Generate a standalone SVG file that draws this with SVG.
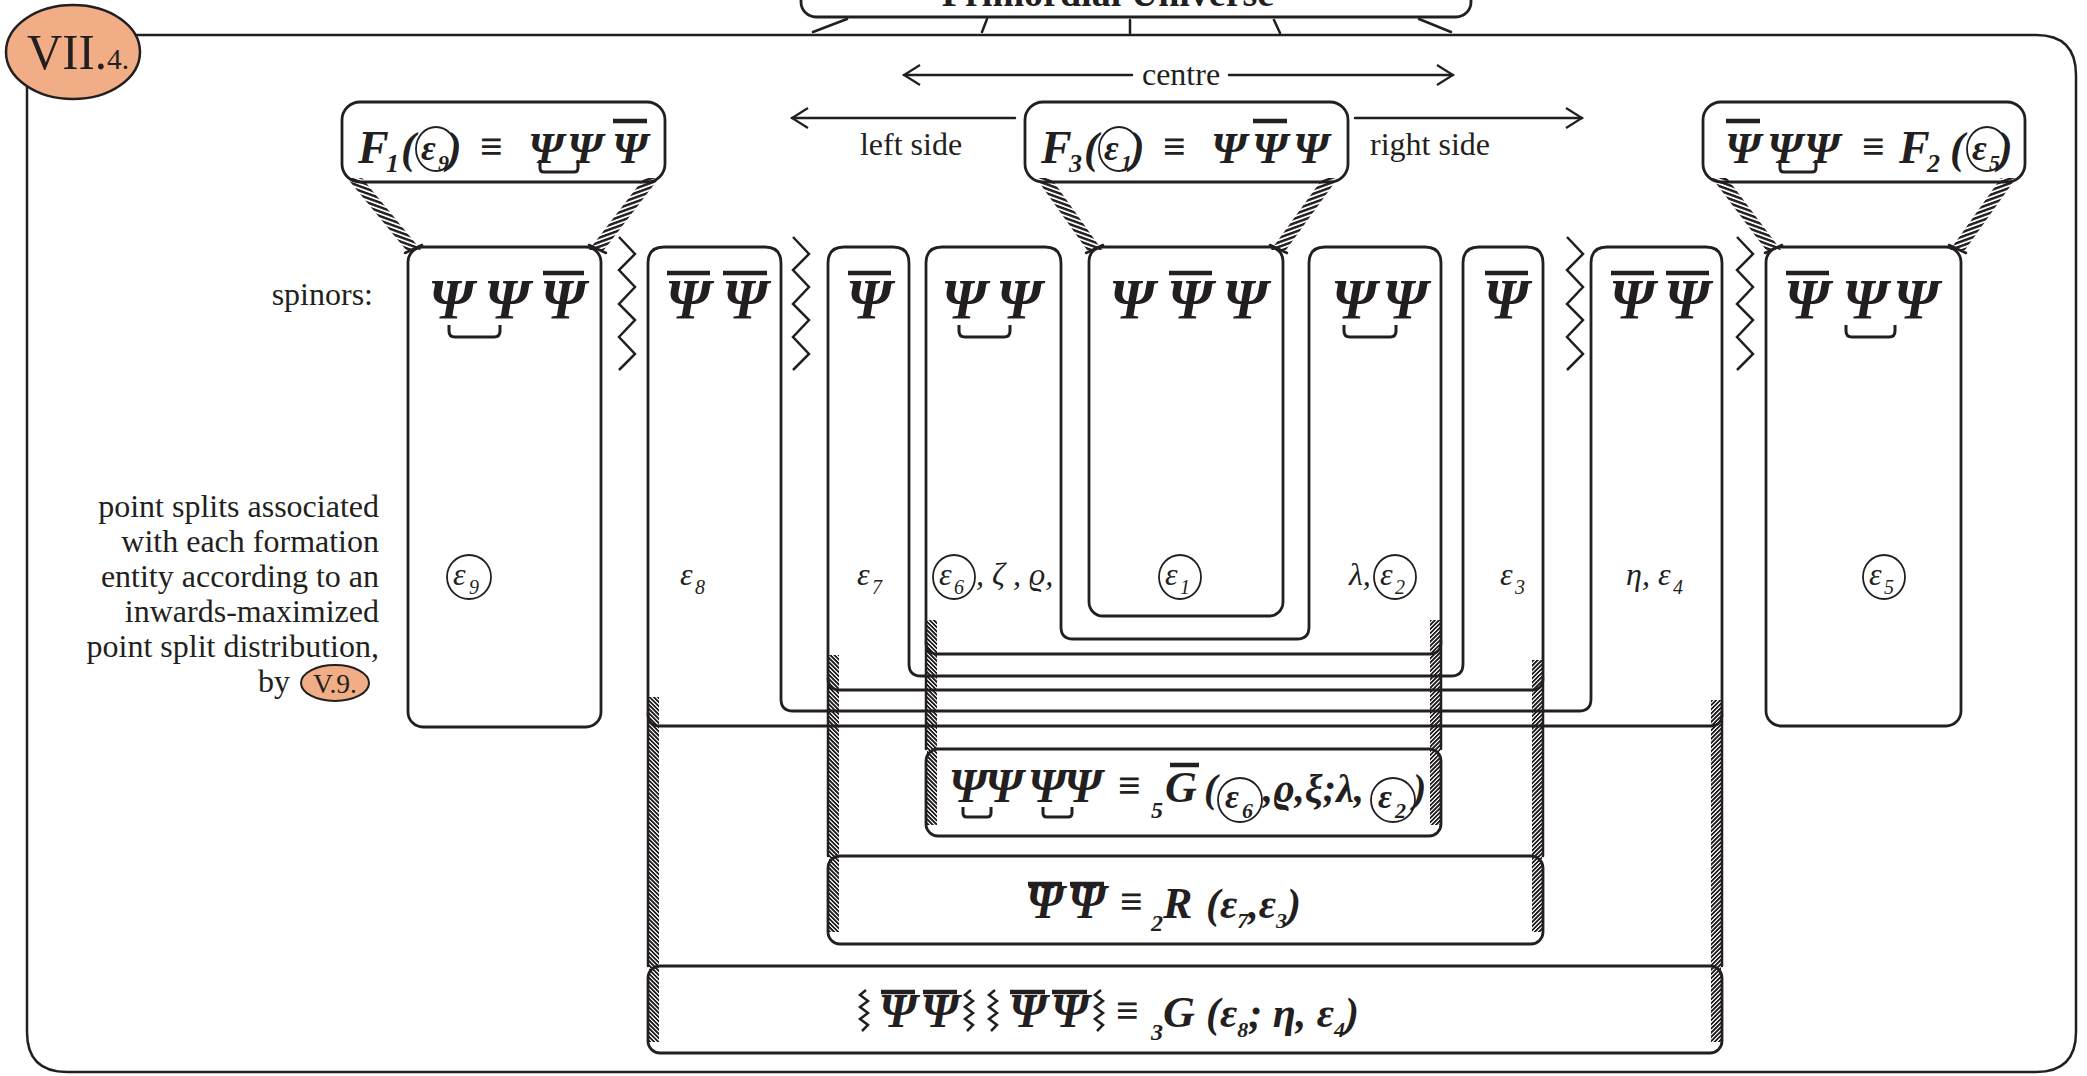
<svg xmlns="http://www.w3.org/2000/svg" width="2087" height="1076" viewBox="0 0 2087 1076">
<defs>
<style>
.ln{fill:none;stroke:#231f20;stroke-width:2.5;stroke-linecap:round;stroke-linejoin:round}
.bx{fill:none;stroke:#231f20;stroke-width:2.8}
.t{font-family:"Liberation Serif","Times New Roman",serif;fill:#231f20}
.lab{font-size:32px}
.bi{font-weight:bold;font-style:italic}
.it{font-style:italic}
.psi{font-family:"Liberation Serif","Times New Roman",serif;font-weight:bold;font-style:italic;font-size:57px;text-anchor:middle;fill:#231f20}
.pf{font-size:45px}
.pb{font-size:48px}
.bar{stroke:#231f20;stroke-width:4.5}
.brk{fill:none;stroke:#231f20;stroke-width:3;stroke-linejoin:round}
.cir{fill:none;stroke:#231f20;stroke-width:1.8}
.zz{fill:none;stroke:#231f20;stroke-width:2.5;stroke-linejoin:miter}
</style>
<pattern id="hL" width="20" height="4.5" patternUnits="userSpaceOnUse" patternTransform="skewY(20)"><rect width="20" height="2.6" fill="#231f20"/></pattern>
<pattern id="hR" width="20" height="4.5" patternUnits="userSpaceOnUse" patternTransform="skewY(-20)"><rect width="20" height="2.6" fill="#231f20"/></pattern>
<pattern id="vL" width="12" height="4.2" patternUnits="userSpaceOnUse" patternTransform="skewY(45)"><rect width="12" height="2.6" fill="#231f20"/></pattern>
<pattern id="vR" width="12" height="4.2" patternUnits="userSpaceOnUse" patternTransform="skewY(-45)"><rect width="12" height="2.6" fill="#231f20"/></pattern>
<marker id="ah" viewBox="0 0 20 24" refX="18" refY="12" markerWidth="20" markerHeight="24" markerUnits="userSpaceOnUse" orient="auto"><path d="M2,2 L18,12 L2,22" fill="none" stroke="#231f20" stroke-width="2.2"/></marker>
</defs>
<rect width="2087" height="1076" fill="#ffffff"/>

<g id="frame">
<path class="ln" d="M130,35 L2036,35 Q2076,35 2076,75 L2076,1032 Q2076,1072 2036,1072 L67,1072 Q27,1072 27,1032 L27,86"/>
<ellipse cx="73" cy="52" rx="67" ry="47" fill="#F1AE86" stroke="#231f20" stroke-width="2.5"/>
<text class="t" x="27" y="69" font-size="50" textLength="102" lengthAdjust="spacingAndGlyphs">VII.<tspan font-size="30">4.</tspan></text>
</g>

<g id="primordial">
<rect class="bx" x="801" y="-30" width="670" height="47" rx="15"/>
<text class="t" x="1108" y="6" font-size="38" font-weight="bold" text-anchor="middle">Primordial Universe</text>
</g>

<g id="connectors">
<path class="ln" d="M813,32 L847,19 M982,32 L987,19 M1130,33 L1130,20 M1274,20 L1280,33 M1419,19 L1451,32"/>
<line class="ln" x1="1132" y1="75" x2="904" y2="75" marker-end="url(#ah)"/>
<line class="ln" x1="1229" y1="75" x2="1453" y2="75" marker-end="url(#ah)"/>
<line class="ln" x1="1015" y1="118" x2="792" y2="118" marker-end="url(#ah)"/>
<line class="ln" x1="1355" y1="118" x2="1582" y2="118" marker-end="url(#ah)"/>
<polygon points="347,178 362,178 421,250 406,250" fill="url(#hL)"/>
<polygon points="644,178 659,178 604,250 589,250" fill="url(#hR)"/>
<polygon points="1036,178 1051,178 1102,250 1087,250" fill="url(#hL)"/>
<polygon points="1323,178 1338,178 1286,250 1271,250" fill="url(#hR)"/>
<polygon points="1712,178 1727,178 1781,250 1766,250" fill="url(#hL)"/>
<polygon points="2001,178 2016,178 1965,250 1950,250" fill="url(#hR)"/>
<path class="ln" d="M405,253 L422,245 M589,245 L606,253 M1086,253 L1103,245 M1270,245 L1287,253 M1765,253 L1782,245 M1949,245 L1966,253"/>
<path class="zz" d="M619,237 L635,254 L619,270 L635,287 L619,304 L635,320 L619,337 L635,354 L619,370"/>
<path class="zz" d="M793,237 L809,254 L793,270 L809,287 L793,304 L809,320 L793,337 L809,354 L793,370"/>
<path class="zz" d="M1567,237 L1583,254 L1567,270 L1583,287 L1567,304 L1583,320 L1567,337 L1583,354 L1567,370"/>
<path class="zz" d="M1737,237 L1753,254 L1737,270 L1753,287 L1737,304 L1753,320 L1737,337 L1753,354 L1737,370"/>
<path class="ln" d="M648,714 L648,966 M1722,714 L1722,966 M828,678 L828,856 M1543,678 L1543,856 M926,642 L926,749 M1441,642 L1441,749"/>
<rect x="649" y="697" width="10" height="345" fill="url(#vL)"/>
<rect x="1711" y="700" width="10" height="342" fill="url(#vR)"/>
<rect x="829" y="655" width="10" height="277" fill="url(#vL)"/>
<rect x="1532" y="660" width="10" height="272" fill="url(#vR)"/>
<rect x="927" y="620" width="10" height="205" fill="url(#vL)"/>
<rect x="1430" y="620" width="10" height="205" fill="url(#vR)"/>
</g>

<g id="labels-left">
<text class="t lab" x="373" y="305" text-anchor="end">spinors:</text>
<text class="t lab" text-anchor="end"><tspan x="379" y="517">point splits associated</tspan><tspan x="379" y="552">with each formation</tspan><tspan x="379" y="587">entity according to an</tspan><tspan x="379" y="622">inwards-maximized</tspan><tspan x="379" y="657">point split distribution,</tspan><tspan x="290" y="692">by</tspan></text>
<ellipse cx="335" cy="683" rx="34" ry="18" fill="#F1AE86" stroke="#231f20" stroke-width="2"/>
<text class="t" x="335" y="693" font-size="27" text-anchor="middle" textLength="44" lengthAdjust="spacingAndGlyphs">V.9.</text>
<text class="t lab" x="1181" y="85" text-anchor="middle">centre</text>
<text class="t lab" x="911" y="155" text-anchor="middle">left side</text>
<text class="t lab" x="1430" y="155" text-anchor="middle">right side</text>
</g>

<g id="F1">
<rect class="bx" x="342" y="102" width="323" height="80" rx="18"/>
<text class="t bi" x="358" y="163" font-size="46">F</text>
<text class="t bi" x="386" y="172" font-size="26">1</text>
<text class="t bi" x="401" y="163" font-size="44">(</text>
<ellipse class="cir" cx="436" cy="149" rx="20" ry="22"/>
<text class="t bi" x="421" y="160" font-size="36">ε</text>
<text class="t bi" x="438" y="170" font-size="22">9</text>
<text class="t bi" x="447" y="163" font-size="44">)</text>
<text class="t bi" x="480" y="160" font-size="40">≡</text>
<text class="psi pf" x="546" y="163">Ψ</text>
<text class="psi pf" x="585" y="163">Ψ</text>
<text class="psi pf" x="630" y="163">Ψ</text>
<line class="bar" x1="613" y1="121" x2="647" y2="121"/>
<path class="brk" d="M540,160 L540,168 Q540,172 544,172 L574,172 Q578,172 578,168 L578,160"/>
</g>

<g id="F3">
<rect class="bx" x="1025" y="102" width="323" height="80" rx="18"/>
<text class="t bi" x="1041" y="163" font-size="46">F</text>
<text class="t bi" x="1069" y="172" font-size="26">3</text>
<text class="t bi" x="1084" y="163" font-size="44">(</text>
<ellipse class="cir" cx="1119" cy="149" rx="20" ry="22"/>
<text class="t bi" x="1104" y="160" font-size="36">ε</text>
<text class="t bi" x="1121" y="170" font-size="22">1</text>
<text class="t bi" x="1130" y="163" font-size="44">)</text>
<text class="t bi" x="1163" y="160" font-size="40">≡</text>
<text class="psi pf" x="1229" y="163">Ψ</text>
<text class="psi pf" x="1270" y="163">Ψ</text>
<line class="bar" x1="1253" y1="121" x2="1287" y2="121"/>
<text class="psi pf" x="1311" y="163">Ψ</text>
</g>

<g id="F2">
<rect class="bx" x="1703" y="102" width="322" height="80" rx="18"/>
<text class="psi pf" x="1743" y="163">Ψ</text>
<line class="bar" x1="1726" y1="121" x2="1760" y2="121"/>
<text class="psi pf" x="1785" y="163">Ψ</text>
<text class="psi pf" x="1822" y="163">Ψ</text>
<path class="brk" d="M1780,160 L1780,168 Q1780,172 1784,172 L1812,172 Q1816,172 1816,168 L1816,160"/>
<text class="t bi" x="1862" y="160" font-size="40">≡</text>
<text class="t bi" x="1899" y="163" font-size="46">F</text>
<text class="t bi" x="1927" y="172" font-size="26">2</text>
<text class="t bi" x="1950" y="163" font-size="44">(</text>
<ellipse class="cir" cx="1987" cy="149" rx="20" ry="22"/>
<text class="t bi" x="1972" y="160" font-size="36">ε</text>
<text class="t bi" x="1989" y="170" font-size="22">5</text>
<text class="t bi" x="1998" y="163" font-size="44">)</text>
</g>

<g id="boxA">
<rect class="bx" x="408" y="247" width="193" height="480" rx="15"/>
<text class="psi" x="451" y="319">Ψ</text>
<text class="psi" x="507" y="319">Ψ</text>
<text class="psi" x="563" y="319">Ψ</text>
<line class="bar" x1="543" y1="273" x2="584" y2="273"/>
<path class="brk" d="M449,325 L449,331 Q449,337 455,337 L494,337 Q500,337 500,331 L500,325"/>
<ellipse class="cir" cx="469" cy="577" rx="22" ry="22"/>
<text class="t it" x="453" y="585" font-size="32">ε</text>
<text class="t it" x="469" y="594" font-size="20">9</text>
</g>

<g id="group-e8">
<path class="bx" d="M664,247 L765,247 Q781,247 781,263 L781,699 Q781,711 793,711 L1579,711 Q1591,711 1591,699 L1591,263 Q1591,247 1607,247 L1706,247 Q1722,247 1722,263 L1722,714 Q1722,726 1710,726 L660,726 Q648,726 648,714 L648,263 Q648,247 664,247 Z"/>
<text class="psi" x="688" y="319">Ψ</text>
<line class="bar" x1="667" y1="273" x2="710" y2="273"/>
<text class="psi" x="745" y="319">Ψ</text>
<line class="bar" x1="723" y1="273" x2="767" y2="273"/>
<text class="psi" x="1632" y="319">Ψ</text>
<line class="bar" x1="1611" y1="273" x2="1654" y2="273"/>
<text class="psi" x="1687" y="319">Ψ</text>
<line class="bar" x1="1666" y1="273" x2="1709" y2="273"/>
<text class="t it" x="680" y="585" font-size="32">ε</text>
<text class="t it" x="695" y="594" font-size="20">8</text>
<text class="t it" x="1626" y="585" font-size="32">η, ε</text>
<text class="t it" x="1673" y="594" font-size="20">4</text>
</g>

<g id="group-e7">
<path class="bx" d="M844,247 L893,247 Q909,247 909,263 L909,664 Q909,676 921,676 L1451,676 Q1463,676 1463,664 L1463,263 Q1463,247 1479,247 L1527,247 Q1543,247 1543,263 L1543,678 Q1543,690 1531,690 L840,690 Q828,690 828,678 L828,263 Q828,247 844,247 Z"/>
<text class="psi" x="869" y="319">Ψ</text>
<line class="bar" x1="848" y1="273" x2="891" y2="273"/>
<text class="psi" x="1506" y="319">Ψ</text>
<line class="bar" x1="1485" y1="273" x2="1528" y2="273"/>
<text class="t it" x="857" y="585" font-size="32">ε</text>
<text class="t it" x="872" y="594" font-size="20">7</text>
<text class="t it" x="1500" y="585" font-size="32">ε</text>
<text class="t it" x="1515" y="594" font-size="20">3</text>
</g>

<g id="group-e6">
<path class="bx" d="M942,247 L1045,247 Q1061,247 1061,263 L1061,627 Q1061,639 1073,639 L1297,639 Q1309,639 1309,627 L1309,263 Q1309,247 1325,247 L1425,247 Q1441,247 1441,263 L1441,642 Q1441,654 1429,654 L938,654 Q926,654 926,642 L926,263 Q926,247 942,247 Z"/>
<text class="psi" x="964" y="319">Ψ</text>
<text class="psi" x="1019" y="319">Ψ</text>
<path class="brk" d="M959,325 L959,331 Q959,337 965,337 L1004,337 Q1010,337 1010,331 L1010,325"/>
<text class="psi" x="1354" y="319">Ψ</text>
<text class="psi" x="1405" y="319">Ψ</text>
<path class="brk" d="M1344,325 L1344,331 Q1344,337 1350,337 L1390,337 Q1396,337 1396,331 L1396,325"/>
<ellipse class="cir" cx="954" cy="577" rx="21" ry="22"/>
<text class="t it" x="939" y="585" font-size="32">ε</text>
<text class="t it" x="954" y="594" font-size="20">6</text>
<text class="t it" x="976" y="585" font-size="32">, ζ , ϱ,</text>
<text class="t it" x="1349" y="585" font-size="32">λ,</text>
<ellipse class="cir" cx="1395" cy="577" rx="21" ry="22"/>
<text class="t it" x="1380" y="585" font-size="32">ε</text>
<text class="t it" x="1395" y="594" font-size="20">2</text>
</g>

<g id="box-e1">
<rect class="bx" x="1089" y="247" width="194" height="369" rx="14"/>
<text class="psi" x="1132" y="319">Ψ</text>
<text class="psi" x="1190" y="319">Ψ</text>
<line class="bar" x1="1169" y1="273" x2="1212" y2="273"/>
<text class="psi" x="1245" y="319">Ψ</text>
<ellipse class="cir" cx="1180" cy="577" rx="21" ry="22"/>
<text class="t it" x="1165" y="585" font-size="32">ε</text>
<text class="t it" x="1180" y="594" font-size="20">1</text>
</g>

<g id="box-e5">
<rect class="bx" x="1766" y="247" width="195" height="479" rx="15"/>
<text class="psi" x="1807" y="319">Ψ</text>
<line class="bar" x1="1786" y1="273" x2="1829" y2="273"/>
<text class="psi" x="1865" y="319">Ψ</text>
<text class="psi" x="1916" y="319">Ψ</text>
<path class="brk" d="M1846,325 L1846,331 Q1846,337 1852,337 L1889,337 Q1895,337 1895,331 L1895,325"/>
<ellipse class="cir" cx="1884" cy="577" rx="21" ry="22"/>
<text class="t it" x="1869" y="585" font-size="32">ε</text>
<text class="t it" x="1884" y="594" font-size="20">5</text>
</g>

<g id="box-5G">
<rect class="bx" x="926" y="749" width="515" height="87" rx="12"/>
<text class="psi pb" x="968" y="802">Ψ</text>
<text class="psi pb" x="1004" y="802">Ψ</text>
<text class="psi pb" x="1047" y="802">Ψ</text>
<text class="psi pb" x="1083" y="802">Ψ</text>
<path class="brk" d="M963,807 L963,813 Q963,817 967,817 L987,817 Q991,817 991,813 L991,807"/>
<path class="brk" d="M1043,807 L1043,813 Q1043,817 1047,817 L1068,817 Q1072,817 1072,813 L1072,807"/>
<text class="t bi" x="1118" y="799" font-size="40">≡</text>
<text class="t bi" x="1151" y="818" font-size="24">5</text>
<text class="t bi" x="1165" y="802" font-size="44">G</text>
<line class="bar" x1="1170" y1="765" x2="1199" y2="765"/>
<text class="t bi" x="1204" y="802" font-size="40">(</text>
<ellipse class="cir" cx="1240" cy="800" rx="22" ry="22"/>
<text class="t bi" x="1225" y="808" font-size="34">ε</text>
<text class="t bi" x="1242" y="818" font-size="22">6</text>
<text class="t bi" x="1263" y="802" font-size="40">,ϱ,ξ;λ,</text>
<ellipse class="cir" cx="1393" cy="800" rx="22" ry="22"/>
<text class="t bi" x="1378" y="808" font-size="34">ε</text>
<text class="t bi" x="1395" y="818" font-size="22">2</text>
<text class="t bi" x="1413" y="802" font-size="40">)</text>
</g>

<g id="box-2R">
<rect class="bx" x="828" y="856" width="715" height="88" rx="12"/>
<text class="psi pb" x="1045" y="918">Ψ</text>
<line class="bar" x1="1028" y1="884" x2="1062" y2="884"/>
<text class="psi pb" x="1087" y="918">Ψ</text>
<line class="bar" x1="1070" y1="884" x2="1104" y2="884"/>
<text class="t bi" x="1120" y="915" font-size="40">≡</text>
<text class="t bi" x="1151" y="931" font-size="24">2</text>
<text class="t bi" x="1163" y="918" font-size="44">R</text>
<text class="t bi" x="1206" y="918" font-size="42">(ε<tspan font-size="22" dy="10">7</tspan><tspan dy="-10">,ε</tspan><tspan font-size="22" dy="10">3</tspan><tspan dy="-10">)</tspan></text>
</g>

<g id="box-3G">
<rect class="bx" x="648" y="966" width="1074" height="87" rx="12"/>
<path class="zz" d="M866,990 l-6,5 l8,6 l-8,6 l8,6 l-8,6 l8,6 l-6,6"/>
<text class="psi pb" x="898" y="1027">Ψ</text>
<line class="bar" x1="881" y1="992" x2="915" y2="992"/>
<text class="psi pb" x="940" y="1027">Ψ</text>
<line class="bar" x1="923" y1="992" x2="957" y2="992"/>
<path class="zz" d="M971,990 l-6,5 l8,6 l-8,6 l8,6 l-8,6 l8,6 l-6,6"/>
<path class="zz" d="M995,990 l-6,5 l8,6 l-8,6 l8,6 l-8,6 l8,6 l-6,6"/>
<text class="psi pb" x="1028" y="1027">Ψ</text>
<line class="bar" x1="1010" y1="992" x2="1045" y2="992"/>
<text class="psi pb" x="1070" y="1027">Ψ</text>
<line class="bar" x1="1052" y1="992" x2="1087" y2="992"/>
<path class="zz" d="M1101,990 l-6,5 l8,6 l-8,6 l8,6 l-8,6 l8,6 l-6,6"/>
<text class="t bi" x="1116" y="1024" font-size="40">≡</text>
<text class="t bi" x="1151" y="1040" font-size="24">3</text>
<text class="t bi" x="1163" y="1027" font-size="44">G</text>
<text class="t bi" x="1206" y="1027" font-size="42">(ε<tspan font-size="22" dy="10">8</tspan><tspan dy="-10">; η, ε</tspan><tspan font-size="22" dy="10">4</tspan><tspan dy="-10">)</tspan></text>
</g>
</svg>
